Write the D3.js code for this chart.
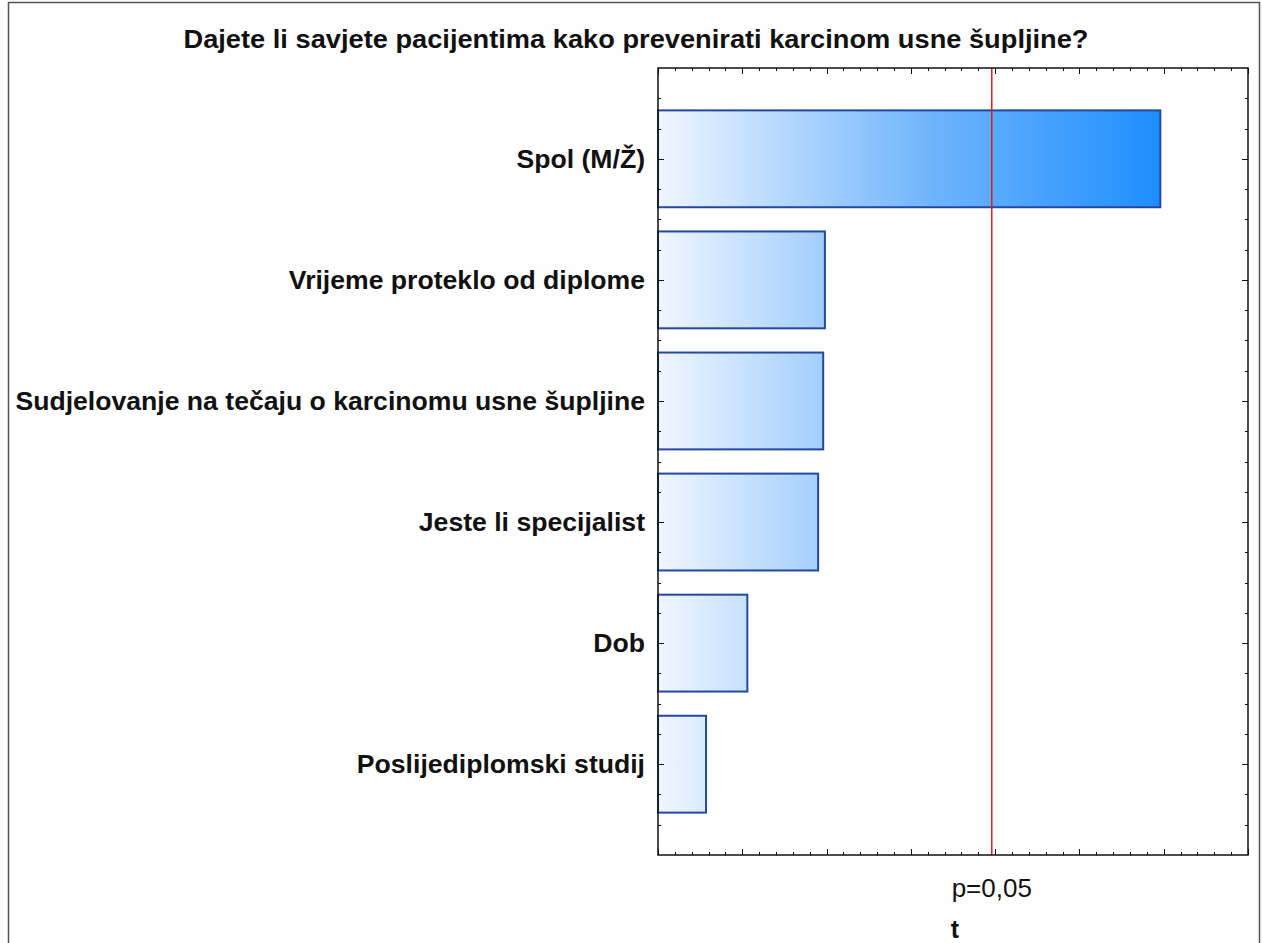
<!DOCTYPE html>
<html>
<head>
<meta charset="utf-8">
<script src="https://cdn.jsdelivr.net/npm/d3@7"></script>
<style>
  html, body { margin: 0; padding: 0; background: #fff; }
  svg { display: block; }
  text { font-family: "Liberation Sans", Arial, sans-serif; fill: #111; }
</style>
</head>
<body>
<svg id="chart" width="1262" height="943"></svg>
<script>
// chart data
const title = 'Dajete li savjete pacijentima kako prevenirati karcinom usne šupljine?';
const categories = [
  'Spol (M/Ž)',
  'Vrijeme proteklo od diplome',
  'Sudjelovanje na tečaju o karcinomu usne šupljine',
  'Jeste li specijalist',
  'Dob',
  'Poslijediplomski studij'
];
const tValues = [2.98, 0.99, 0.98, 0.95, 0.53, 0.285];
const critT = 1.98;
const critLabel = 'p=0,05';
const xLabel = 't';

const W = 1262, H = 943;
const plot = { left: 658, right: 1248, top: 68, bottom: 855 };

const svg = d3.select('#chart');

// outer frame (bottom edge falls outside the picture)
svg.append('path')
  .attr('d', `M8.5,${H + 2}V2.5H1259.5V${H + 2}`)
  .attr('fill', 'none')
  .attr('stroke', '#555')
  .attr('stroke-width', 1.5);

const x = d3.scaleLinear().domain([0, 3.5]).range([plot.left, plot.right]);
// categories sit at 1..6, axis spans 0.25..6.75
const y = d3.scaleLinear().domain([0.25, 6.75]).range([plot.top, plot.bottom]);
const bandH = (y(1) - y(0)) * 0.8;

const defs = svg.append('defs');
const grad = defs.append('linearGradient')
  .attr('id', 'barGrad')
  .attr('gradientUnits', 'userSpaceOnUse')
  .attr('x1', x(0)).attr('x2', x(d3.max(tValues)))
  .attr('y1', 0).attr('y2', 0);
grad.append('stop').attr('offset', '0%').attr('stop-color', '#f0f6fe');
grad.append('stop').attr('offset', '55%').attr('stop-color', '#6eb4fc');
grad.append('stop').attr('offset', '100%').attr('stop-color', '#1e8eff');

// bars
svg.append('g')
  .selectAll('rect')
  .data(tValues)
  .join('rect')
    .attr('x', x(0))
    .attr('y', (d, i) => y(i + 1) - bandH / 2)
    .attr('width', d => x(d) - x(0))
    .attr('height', bandH)
    .attr('fill', 'url(#barGrad)')
    .attr('stroke', '#2448a0')
    .attr('stroke-width', 2);

// critical value line
svg.append('line')
  .attr('x1', x(critT)).attr('x2', x(critT))
  .attr('y1', plot.top).attr('y2', plot.bottom)
  .attr('stroke', '#dd1c1c')
  .attr('stroke-width', 1.5);

// inward ticks on all four sides
const tickG = svg.append('g').attr('stroke', '#111').attr('stroke-width', 1);
const xTicks = d3.range(0, 36).map(i => i / 10);
xTicks.forEach(v => {
  const major = Math.round(v * 10) % 5 === 0;
  const len = major ? 6 : 3;
  const px = Math.round(x(v)) + 0.5;
  tickG.append('line').attr('x1', px).attr('x2', px)
    .attr('y1', plot.top).attr('y2', plot.top + len);
  tickG.append('line').attr('x1', px).attr('x2', px)
    .attr('y1', plot.bottom).attr('y2', plot.bottom - len);
});
const yTicks = d3.range(1, 27).map(i => 0.25 * i + 0.25).filter(v => v < 6.75);
yTicks.forEach(v => {
  const major = Math.abs(v - Math.round(v)) < 1e-6;
  const len = major ? 6 : 3;
  const py = Math.round(y(v)) + 0.5;
  tickG.append('line').attr('x1', plot.left).attr('x2', plot.left + len)
    .attr('y1', py).attr('y2', py);
  tickG.append('line').attr('x1', plot.right).attr('x2', plot.right - len)
    .attr('y1', py).attr('y2', py);
});

// plot frame
svg.append('rect')
  .attr('x', plot.left).attr('y', plot.top)
  .attr('width', plot.right - plot.left)
  .attr('height', plot.bottom - plot.top)
  .attr('fill', 'none')
  .attr('stroke', '#111')
  .attr('stroke-width', 1.5);

// category labels
svg.append('g')
  .selectAll('text')
  .data(categories)
  .join('text')
    .attr('x', plot.left - 13)
    .attr('y', (d, i) => y(i + 1) + 9)
    .attr('text-anchor', 'end')
    .attr('font-size', 26.6)
    .attr('font-weight', 'bold')
    .text(d => d);

// title
svg.append('text')
  .attr('x', 636).attr('y', 48)
  .attr('text-anchor', 'middle')
  .attr('font-size', 26)
  .attr('font-weight', 'bold')
  .attr('textLength', 905)
  .attr('lengthAdjust', 'spacingAndGlyphs')
  .text(title);

// critical label and axis title
svg.append('text')
  .attr('x', x(critT)).attr('y', 897)
  .attr('text-anchor', 'middle')
  .attr('font-size', 26)
  .attr('fill', '#333')
  .text(critLabel);

svg.append('text')
  .attr('x', 955).attr('y', 938)
  .attr('text-anchor', 'middle')
  .attr('font-size', 25)
  .attr('font-weight', 'bold')
  .text(xLabel);
</script>
</body>
</html>
